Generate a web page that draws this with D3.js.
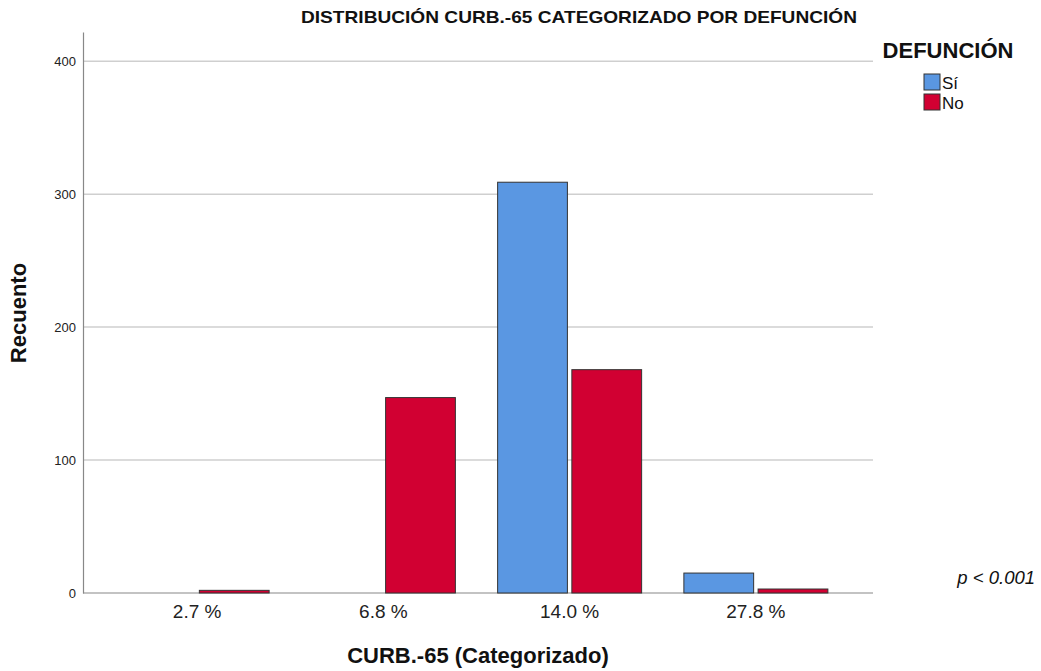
<!DOCTYPE html>
<html><head><meta charset="utf-8">
<script src="https://cdn.jsdelivr.net/npm/d3@7"></script>
<style>body{margin:0;background:#fff;font-family:"Liberation Sans",Arial,sans-serif;}</style>
</head><body><svg id="c" width="1041" height="671"></svg>
<script>
const categories = ["2.7 %", "6.8 %", "14.0 %", "27.8 %"];
const seriesNames = ["Sí", "No"];
const siValues = [0, 0, 309, 15];
const noValues = [2, 147, 168, 3];
const yTicks = [0, 100, 200, 300, 400];
const colors = ["#5a97e2", "#d10032"];
const FONT = "Liberation Sans, Arial, sans-serif";

const svg = d3.select("#c");
const y = d3.scaleLinear().domain([0, 422]).range([593, 32]);
const x = d3.scaleBand().domain(categories).range([104, 849]).padding(0);
const x1 = d3.scaleBand().domain(seriesNames).range([x.bandwidth()/2 - 72, x.bandwidth()/2 + 72]).paddingInner(0.06);

// gridlines
svg.append("g").selectAll("line").data(yTicks.filter(d=>d>0)).join("line")
  .attr("x1", 83).attr("x2", 873).attr("y1", d=>y(d)).attr("y2", d=>y(d))
  .attr("stroke", "#cfcfcf").attr("stroke-width", 1.5);

// y axis
const yAxis = d3.axisLeft(y).tickValues(yTicks).tickSize(0).tickPadding(7);
const gy = svg.append("g").attr("transform", "translate(83,0)").call(yAxis);
gy.select(".domain").attr("stroke", "#888").attr("stroke-width", 1.2);
gy.selectAll("text").attr("font-size", 13).attr("fill", "#222").attr("font-family", FONT);

// x axis line
svg.append("line").attr("x1", 83).attr("x2", 873).attr("y1", y(0)).attr("y2", y(0)).attr("stroke", "#888").attr("stroke-width", 1.2);

// bars
const data = categories.map((c,i)=>({cat:c, vals:[siValues[i], noValues[i]]}));
const groups = svg.append("g").selectAll("g").data(data).join("g")
  .attr("transform", d=>`translate(${x(d.cat)},0)`);
groups.selectAll("rect").data(d=>d.vals.map((v,j)=>({v, s:seriesNames[j], j}))).join("rect")
  .filter(d=>d.v>0)
  .attr("x", d=>x1(d.s)).attr("width", x1.bandwidth())
  .attr("y", d=>y(d.v)).attr("height", d=>y(0)-y(d.v))
  .attr("fill", d=>colors[d.j]).attr("stroke", "#333").attr("stroke-width", 1);

// x tick labels
const xAxis = d3.axisBottom(x).tickSize(0).tickPadding(12);
const gx = svg.append("g").attr("transform", `translate(0,${y(0)})`).call(xAxis);
gx.select(".domain").remove();
gx.selectAll("text").attr("font-size", 19).attr("fill", "#222").attr("font-family", FONT);

// title
svg.append("text").attr("x", 579).attr("y", 23).attr("text-anchor", "middle")
  .attr("font-size", 17).attr("font-weight", "bold").attr("fill", "#111")
  .attr("textLength", 556).attr("lengthAdjust", "spacingAndGlyphs")
  .text("DISTRIBUCIÓN CURB.-65 CATEGORIZADO POR DEFUNCIÓN");

// axis titles
svg.append("text").attr("transform", "translate(26,313) rotate(-90)").attr("text-anchor", "middle")
  .attr("font-size", 22).attr("font-weight", "bold").attr("fill", "#111").text("Recuento");
svg.append("text").attr("x", 478).attr("y", 663).attr("text-anchor", "middle")
  .attr("font-size", 22).attr("font-weight", "bold").attr("fill", "#111").text("CURB.-65 (Categorizado)");

// legend
svg.append("text").attr("x", 948).attr("y", 58).attr("text-anchor", "middle")
  .attr("font-size", 22).attr("font-weight", "bold").attr("fill", "#111").text("DEFUNCIÓN");
const lg = svg.append("g").selectAll("g").data(seriesNames).join("g")
  .attr("transform", (d,i)=>`translate(924,${74 + i*20})`);
lg.append("rect").attr("width", 16).attr("height", 16)
  .attr("fill", (d,i)=>colors[i]).attr("stroke", "#333").attr("stroke-width", 1);
lg.append("text").attr("x", 18).attr("y", 14.5).attr("font-size", 17).attr("fill", "#111").text(d=>d);

// p value
svg.append("text").attr("x", 1035).attr("y", 584).attr("text-anchor", "end")
  .attr("font-size", 18.5).attr("font-style", "italic").attr("fill", "#111").text("p < 0.001");
</script></body></html>
